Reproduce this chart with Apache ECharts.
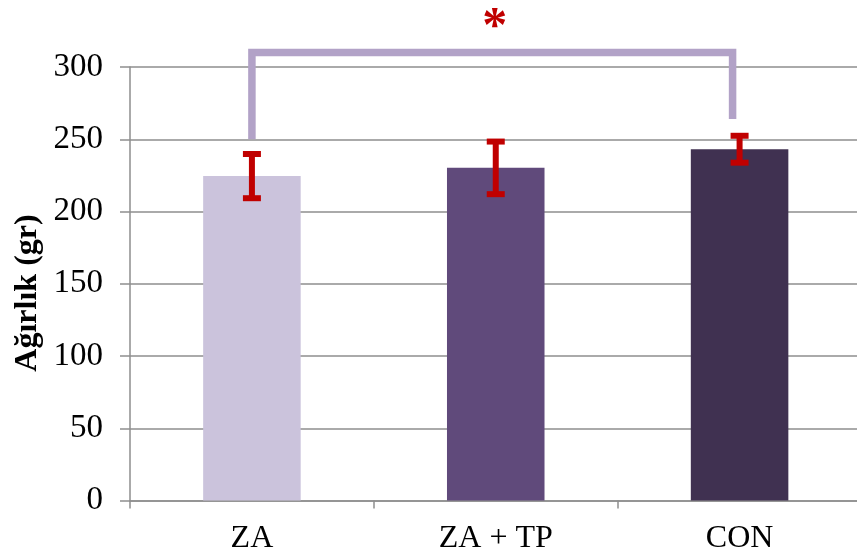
<!DOCTYPE html>
<html>
<head>
<meta charset="utf-8">
<script src="https://cdn.jsdelivr.net/npm/echarts@6/dist/echarts.min.js"></script>
<style>
  html, body { margin: 0; padding: 0; background: #fff; overflow: hidden; }
  #chart { width: 862px; height: 558px; }
</style>
</head>
<body>
<div id="chart"></div>
<script>
// Group names, mean weights and their error (± values)
const categories = ['ZA', 'ZA + TP', 'CON'];
const means = [224.5, 230.2, 243.1];
const errors = [15.3, 18.2, 9.3];
const barColors = ['#cbc3dc', '#604a7b', '#403151'];

// Y axis ticks
const yMin = 0;
const yMax = 300;
const yStep = 50;

// Significance bracket between ZA and CON
const bracketFrom = 0;
const bracketTo = 2;
const bracketLeftFoot = 250;
const bracketRightFoot = 264;
const bracketTop = 310;
const bracketMarkValue = 327;
const bracketMark = '*';

const serif = "'Liberation Serif', 'Times New Roman', serif";
const gridGray = '#8e8e8e';

const chart = echarts.init(document.getElementById('chart'), null, { renderer: 'canvas' });

chart.setOption({
  animation: false,
  backgroundColor: '#ffffff',
  grid: { left: 130, top: 67, right: 0.5, bottom: 57.5, containLabel: false },
  xAxis: {
    type: 'category',
    data: categories,
    boundaryGap: true,
    axisLine: { show: true, lineStyle: { color: gridGray, width: 1.5 } },
    axisTick: { show: true, alignWithLabel: false, length: 8, lineStyle: { color: gridGray, width: 1.5 } },
    axisLabel: { color: '#000', fontFamily: serif, fontSize: 32, margin: 22 },
    splitLine: { show: false }
  },
  yAxis: {
    type: 'value',
    min: yMin,
    max: yMax,
    interval: yStep,
    axisLine: { show: true, lineStyle: { color: gridGray, width: 1.5 } },
    axisTick: { show: true, length: 10, lineStyle: { color: gridGray, width: 1.5 } },
    axisLabel: { color: '#000', fontFamily: serif, fontSize: 33, margin: 27 },
    splitLine: { show: true, lineStyle: { color: gridGray, width: 1.5 } }
  },
  graphic: [{
    type: 'text',
    x: 28,
    y: 293,
    rotation: Math.PI / 2,
    style: {
      text: 'Ağırlık (gr)',
      fill: '#000',
      font: 'bold 32px ' + serif,
      align: 'center',
      verticalAlign: 'middle'
    }
  }],
  series: [
    {
      type: 'bar',
      barWidth: '40%',
      data: means.map((v, i) => ({ value: v, itemStyle: { color: barColors[i] } })),
      z: 2
    },
    {
      // Error bars: stem with caps at mean ± error
      type: 'custom',
      z: 5,
      data: categories.map((c, i) => [i, means[i], errors[i]]),
      renderItem(params, api) {
        const idx = api.value(0);
        const m = api.value(1);
        const e = api.value(2);
        const top = api.coord([idx, m + e]);
        const bot = api.coord([idx, m - e]);
        const half = 9;
        const st = { stroke: '#c00000', lineWidth: 6 };
        return {
          type: 'group',
          children: [
            { type: 'line', shape: { x1: top[0], y1: top[1], x2: bot[0], y2: bot[1] }, style: st },
            { type: 'line', shape: { x1: top[0] - half, y1: top[1], x2: top[0] + half, y2: top[1] }, style: st },
            { type: 'line', shape: { x1: bot[0] - half, y1: bot[1], x2: bot[0] + half, y2: bot[1] }, style: st }
          ]
        };
      }
    },
    {
      // Significance bracket and its star
      type: 'custom',
      z: 6,
      clip: false,
      data: [[bracketFrom, bracketTo, bracketLeftFoot, bracketRightFoot, bracketTop, bracketMarkValue]],
      renderItem(params, api) {
        const a = api.value(0), b = api.value(1);
        const p1 = api.coord([a, api.value(2)]);
        const p2 = api.coord([a, api.value(4)]);
        const p3 = api.coord([b, api.value(4)]);
        const p4 = api.coord([b, api.value(3)]);
        const rightShift = -7;
        const mark = api.coord([(a + b) / 2, api.value(5)]);
        return {
          type: 'group',
          children: [
            {
              type: 'polyline',
              shape: { points: [p1, p2, [p3[0] + rightShift, p3[1]], [p4[0] + rightShift, p4[1]]] },
              style: { stroke: '#b2a2c7', lineWidth: 7.5, fill: null, lineJoin: 'miter' }
            },
            {
              type: 'text',
              x: mark[0] - 1,
              y: mark[1],
              style: {
                text: bracketMark,
                fill: '#c00000',
                font: 'bold 50px ' + serif,
                align: 'center',
                verticalAlign: 'middle'
              }
            }
          ]
        };
      }
    }
  ]
});
</script>
</body>
</html>
